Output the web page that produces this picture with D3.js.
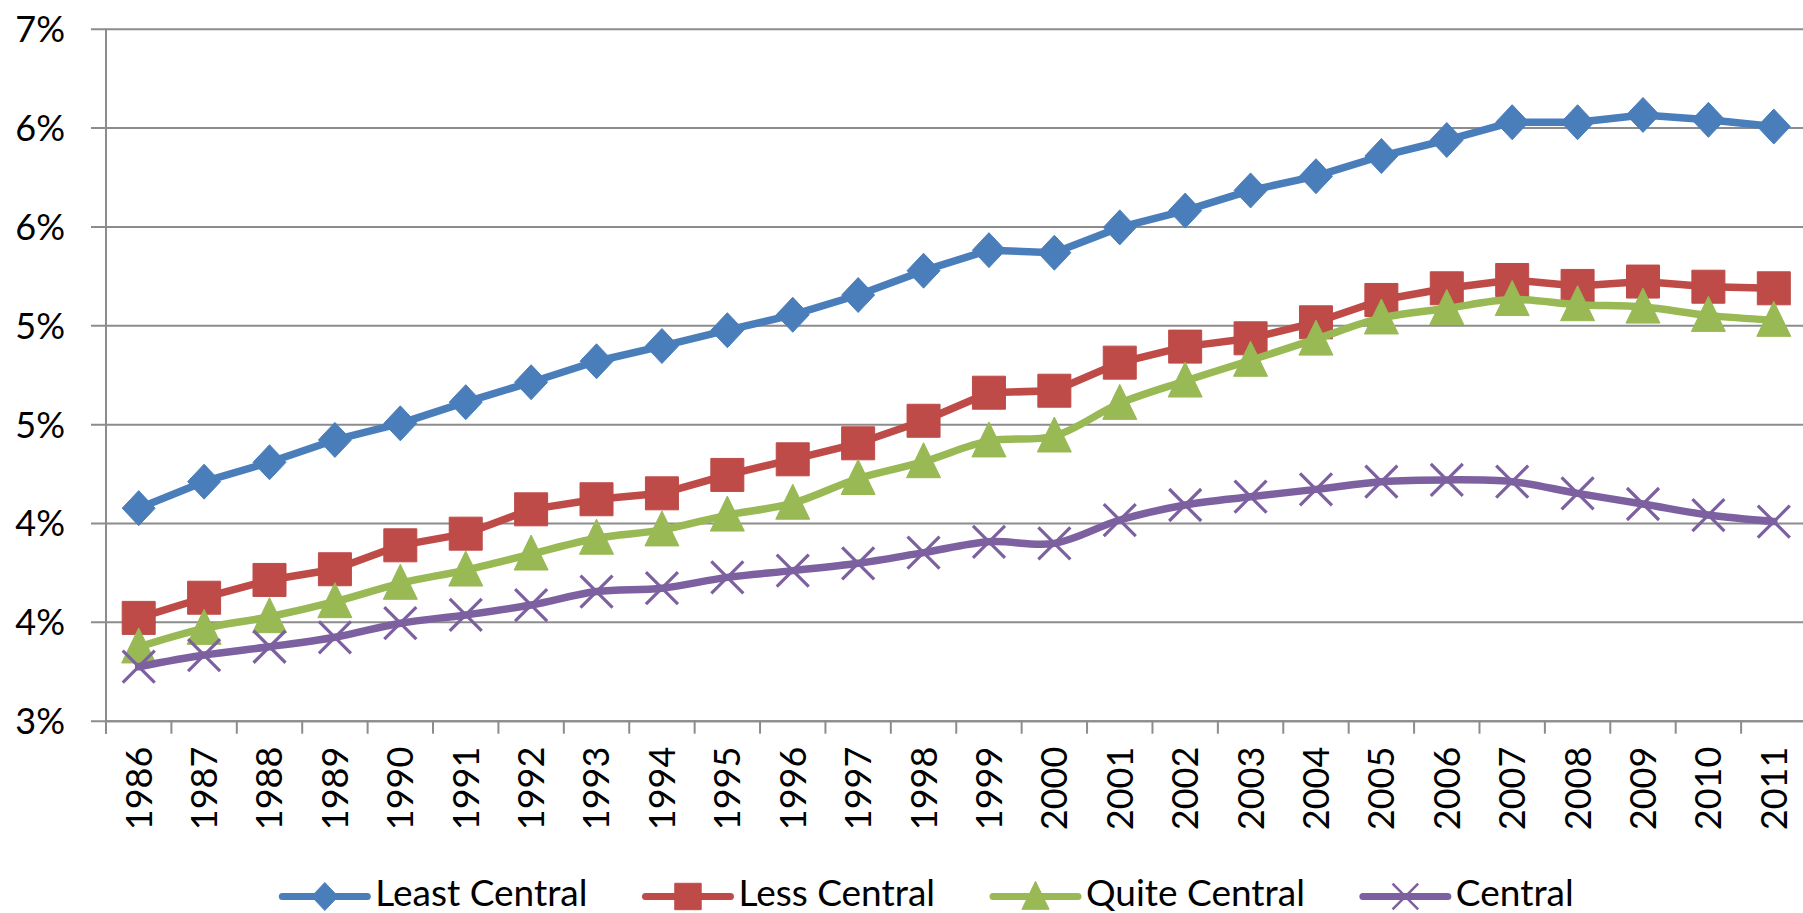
<!DOCTYPE html>
<html>
<head>
<meta charset="utf-8">
<script src="https://cdn.jsdelivr.net/npm/d3@7"></script>
<style>
  html, body { margin: 0; padding: 0; background: #fff; }
  svg { display: block; }
  text { font-family: Lato, "Open Sans", sans-serif; fill: #000; }
</style>
</head>
<body>
<svg id="chart" width="1803" height="913"></svg>
<script>
const years = ["1986","1987","1988","1989","1990","1991","1992","1993","1994","1995","1996","1997","1998","1999","2000","2001","2002","2003","2004","2005","2006","2007","2008","2009","2010","2011"];
const leastCentral = [4.075,4.209,4.307,4.420,4.504,4.611,4.712,4.818,4.895,4.975,5.053,5.153,5.276,5.380,5.367,5.495,5.580,5.682,5.754,5.856,5.937,6.027,6.027,6.064,6.039,6.005];
const lessCentral  = [3.520,3.622,3.712,3.766,3.887,3.946,4.069,4.120,4.150,4.243,4.322,4.403,4.517,4.659,4.669,4.811,4.892,4.934,5.015,5.128,5.187,5.229,5.199,5.221,5.195,5.187];
const quiteCentral = [3.373,3.467,3.526,3.602,3.695,3.762,3.843,3.923,3.965,4.040,4.100,4.225,4.310,4.415,4.440,4.605,4.718,4.823,4.930,5.037,5.085,5.130,5.104,5.092,5.050,5.025];
const central      = [3.273,3.332,3.374,3.422,3.493,3.535,3.585,3.653,3.670,3.725,3.759,3.796,3.850,3.905,3.897,4.015,4.091,4.133,4.170,4.209,4.218,4.209,4.150,4.096,4.040,4.007];
const seriesNames = ["Least Central","Less Central","Quite Central","Central"];
const yTickValues = [3.0,3.5,4.0,4.5,5.0,5.5,6.0,6.5];
const yTickLabels = ["3%","4%","4%","5%","5%","6%","6%","7%"];

const colors = ["#4A7EBB","#BE4B48","#98B954","#7D60A0"];
const shapes = ["diamond","square","triangle","x"];
const seriesValues = [leastCentral, lessCentral, quiteCentral, central];

(function () {
const svg = d3.select("#chart");
const pLeft = 106, pRight = 1806.5, pTop = 28.7, pBottom = 720.7;

const x = d3.scaleBand().domain(years).range([pLeft, pRight]).padding(0);
const y = d3.scaleLinear().domain([3.0, 6.5]).range([pBottom, pTop]);

const gridColor = "#8C8C8C";

// gridlines + y ticks
const yAxis = d3.axisLeft(y).tickValues(yTickValues)
  .tickSize(-(pRight - pLeft)).tickSizeOuter(0)
  .tickFormat((d, i) => yTickLabels[i]);
const gy = svg.append("g").attr("transform", `translate(${pLeft},0)`).call(yAxis);
gy.select(".domain").remove();
gy.selectAll(".tick line").attr("x1", -15).attr("stroke", gridColor).attr("stroke-width", 2);
gy.selectAll(".tick text").attr("x", -41).attr("dy", "0.36em")
  .attr("font-size", 36).attr("font-family", "Lato").attr("fill", "#000");

// y axis line
svg.append("line").attr("x1", pLeft).attr("x2", pLeft).attr("y1", pTop).attr("y2", pBottom + 13)
  .attr("stroke", gridColor).attr("stroke-width", 2);

// x axis
const xAxis = d3.axisBottom(x).tickSize(0).tickSizeOuter(0);
const gx = svg.append("g").attr("transform", `translate(0,${pBottom})`).call(xAxis);
gx.select(".domain").attr("stroke", gridColor).attr("stroke-width", 2);
gx.selectAll(".tick text")
  .attr("font-size", 36).attr("font-family", "Lato").attr("fill", "#000")
  .attr("text-anchor", "end")
  .attr("transform", "translate(0,26) rotate(-90)")
  .attr("x", 0).attr("y", 0).attr("dy", "0.36em");
// boundary tick marks
const boundaries = years.map(yr => x(yr)).concat([x(years[years.length-1]) + x.bandwidth()]);
svg.append("g").selectAll("line").data(boundaries).join("line")
  .attr("x1", d => d).attr("x2", d => d).attr("y1", pBottom).attr("y2", pBottom + 13)
  .attr("stroke", gridColor).attr("stroke-width", 2);

function markerPath(shape, s) {
  const p = d3.path();
  if (shape === "diamond") {
    p.moveTo(0, -17.5*s); p.lineTo(16.5*s, 0); p.lineTo(0, 17.5*s); p.lineTo(-16.5*s, 0); p.closePath();
  } else if (shape === "square") {
    p.rect(-16.5*s, -16.5*s, 33*s, 33*s);
  } else if (shape === "triangle") {
    p.moveTo(0, -19*s); p.lineTo(17*s, 16*s); p.lineTo(-17*s, 16*s); p.closePath();
  } else {
    p.moveTo(-16*s, -16*s); p.lineTo(16*s, 16*s); p.moveTo(16*s, -16*s); p.lineTo(-16*s, 16*s);
  }
  return p.toString();
}
function drawMarker(g, shape, color, s) {
  const m = g.append("path").attr("d", markerPath(shape, s));
  if (shape === "x") m.attr("fill", "none").attr("stroke", color).attr("stroke-width", 3.2 * s);
  else m.attr("fill", color).attr("stroke", color).attr("stroke-width", 1).attr("stroke-linejoin", "round");
}

const cx = yr => x(yr) + x.bandwidth() / 2;

seriesValues.forEach((vals, si) => {
  const data = years.map((yr, i) => ({ yr, v: vals[i] }));
  const line = d3.line().x(d => cx(d.yr)).y(d => y(d.v))
    .curve(si >= 2 ? d3.curveCatmullRom.alpha(0.5) : d3.curveLinear);
  svg.append("path").datum(data).attr("d", line)
    .attr("fill", "none").attr("stroke", colors[si]).attr("stroke-width", 7.5)
    .attr("stroke-linejoin", "round").attr("stroke-linecap", "round");
  const mg = svg.append("g");
  data.forEach(d => {
    const g = mg.append("g").attr("transform", `translate(${cx(d.yr)},${y(d.v)})`);
    drawMarker(g, shapes[si], colors[si], 1);
  });
});

// legend
const legendY = 896.5;
const legend = svg.append("g");
let cursor = 0;
seriesNames.forEach((name, i) => {
  const g = legend.append("g");
  g.append("line").attr("x1", 0).attr("x2", 85).attr("y1", 0).attr("y2", 0)
    .attr("stroke", colors[i]).attr("stroke-width", 7).attr("stroke-linecap", "round");
  const mk = g.append("g").attr("transform", "translate(42.5,0)");
  drawMarker(mk, shapes[i], colors[i], 0.8);
  const t = g.append("text").attr("x", 93).attr("y", 9.5)
    .attr("font-size", 37).text(name);
  const w = 93 + t.node().getComputedTextLength();
  g.attr("transform", `translate(${cursor},${legendY})`);
  cursor += w + 58;
});
const totalW = cursor - 58;
legend.attr("transform", `translate(${928 - totalW / 2},0)`);
})();
</script>
</body>
</html>
